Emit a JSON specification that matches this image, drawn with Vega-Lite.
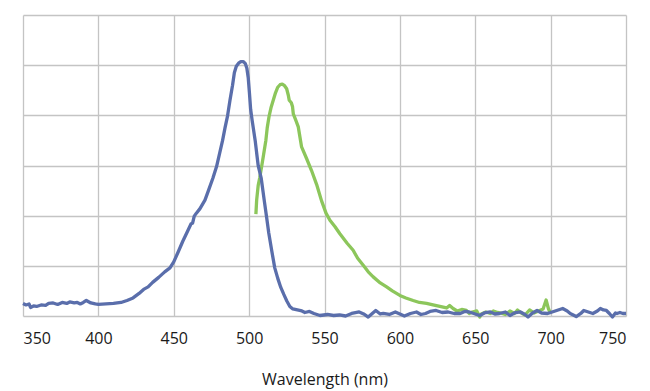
{
  "$schema": "https://vega.github.io/schema/vega-lite/v6.json",
  "autosize": "none",
  "width": 603,
  "height": 301,
  "padding": {"left": 23, "top": 15, "right": 24, "bottom": 75},
  "background": "white",
  "config": {"view": {"stroke": null}, "font": "Open Sans"},
  "datasets": {
    "excitation": [
      [350,0.25],[352,0.22],[354,0.24],[355,0.17],[357,0.2],[359,0.19],[362,0.22],[365,0.21],[367,0.25],[370,0.26],[373,0.23],[376,0.27],[379,0.25],[381,0.28],[384,0.26],[386,0.27],[388,0.24],[390,0.27],[392,0.31],[395,0.26],[398,0.24],[400,0.23],[405,0.24],[410,0.25],[415,0.27],[419,0.31],[423,0.36],[427,0.45],[430,0.53],[433,0.58],[436,0.67],[440,0.77],[444,0.88],[447.5,0.96],[450,1.08],[453,1.28],[456,1.49],[459,1.68],[461.5,1.84],[462.5,1.85],[463.6,1.99],[465,2.05],[467.4,2.14],[470.7,2.31],[473,2.5],[476,2.75],[478.4,2.98],[480.5,3.25],[482.4,3.5],[484,3.75],[485.7,3.99],[487.3,4.3],[489,4.6],[490.2,4.85],[491.5,4.98],[493,5.04],[494.5,5.07],[496.2,5.07],[497.5,5.03],[498.5,4.94],[499.4,4.75],[500.2,4.45],[501,4.12],[502,3.9],[504,3.5],[506,3.0],[508,2.75],[510,2.31],[511.6,1.97],[513,1.66],[515,1.3],[517,0.96],[519,0.75],[521,0.57],[523,0.43],[525,0.3],[527,0.19],[529,0.14],[532,0.12],[535,0.1],[537,0.07],[540,0.09],[543,0.05],[547,0.01],[552,0.03],[556,0.01],[560,0.02],[564,0.0],[568,0.05],[573,0.08],[576,0.04],[579,-0.02],[584,0.11],[587,0.04],[589,0.05],[593,0.03],[597,0.08],[600,0.04],[603,0.0],[607,0.05],[611,0.08],[614,0.03],[617,0.05],[620,0.09],[624,0.11],[628,0.07],[632,0.08],[636,0.05],[640,0.05],[643,0.09],[646,0.08],[650,0.04],[653,0.01],[656,0.06],[660,0.08],[663,0.04],[666,0.05],[670,0.08],[673,0.01],[676,0.06],[680,0.08],[683,0.03],[685,-0.02],[688,0.06],[691,0.11],[694,0.06],[698,0.05],[701,0.08],[704,0.11],[708,0.15],[711,0.1],[713,0.05],[717,-0.01],[720,0.05],[722,0.11],[725,0.08],[728,0.05],[731,0.1],[733,0.15],[735,0.12],[737,0.11],[739,0.05],[741,-0.02],[743,0.06],[744,0.05],[746,0.07],[748,0.05],[750,0.05]
    ],
    "emission": [
      [504.5,2.03],[505,2.31],[506,2.6],[507,2.75],[508.3,2.98],[509.5,3.2],[511.1,3.5],[512,3.75],[513.3,3.99],[514.5,4.15],[516,4.3],[517.5,4.45],[519,4.56],[520.5,4.61],[522,4.62],[523.5,4.59],[524.9,4.53],[526,4.4],[526.6,4.3],[528,4.25],[528.8,4.17],[529.3,4.03],[531,3.9],[532.6,3.77],[534.8,3.37],[538.1,3.14],[541.4,2.9],[544.8,2.62],[548,2.3],[551,2.05],[553.6,1.91],[557,1.78],[560.2,1.64],[565,1.45],[569,1.31],[572,1.15],[575.7,1.01],[579,0.88],[582.3,0.78],[587,0.66],[591.2,0.58],[595,0.5],[600,0.41],[604,0.36],[608.8,0.31],[613,0.27],[617.7,0.25],[622,0.22],[626.5,0.19],[631,0.16],[633,0.21],[635.3,0.15],[638,0.1],[641,0.13],[644.2,0.11],[646,0.05],[648,0.08],[651,0.1],[653,-0.02],[654,0.04],[657,0.08],[660,0.05],[662,0.1],[664,0.08],[667,0.06],[670,0.03],[673,0.1],[676,0.05],[678,0.12],[680,0.07],[683,0.02],[686,0.12],[689,0.06],[692,0.1],[695,0.14],[697,0.32],[698.5,0.15],[699.5,0.08],[700.5,0.06]
    ]
  },
  "layer": [
    {
      "data": {"name": "emission"},
      "transform": [{"calculate": "datum[0]", "as": "wl"}, {"calculate": "datum[1]", "as": "v"}],
      "mark": {"type": "line", "stroke": "#8cc65b", "strokeWidth": 3.3, "strokeJoin": "round"},
      "encoding": {
        "x": {"field": "wl", "type": "quantitative", "scale": {"domain": [350, 750], "nice": false, "zero": false},
          "axis": {"values": [350,400,450,500,550,600,650,700,750], "title": "Wavelength (nm)", "domain": false, "ticks": false, "grid": true, "gridColor": "#c4c4c4", "gridWidth": 1.3, "labelFontSize": 16, "labelColor": "#1a1a1a", "labelPadding": 14, "labelFont": "Open Sans", "titleFont": "Open Sans", "titleFontSize": 16, "titleFontWeight": "normal", "titleColor": "#1a1a1a", "titlePadding": 25}},
        "y": {"field": "v", "type": "quantitative", "scale": {"domain": [0, 6], "nice": false},
          "axis": {"values": [0,1,2,3,4,5,6], "labels": false, "ticks": false, "domain": false, "title": null, "grid": true, "gridColor": "#c4c4c4", "gridWidth": 1.3}}
      }
    },
    {
      "data": {"name": "excitation"},
      "transform": [{"calculate": "datum[0]", "as": "wl"}, {"calculate": "datum[1]", "as": "v"}],
      "mark": {"type": "line", "stroke": "#5a6eab", "strokeWidth": 3.3, "strokeJoin": "round"},
      "encoding": {
        "x": {"field": "wl", "type": "quantitative"},
        "y": {"field": "v", "type": "quantitative"}
      }
    }
  ]
}
